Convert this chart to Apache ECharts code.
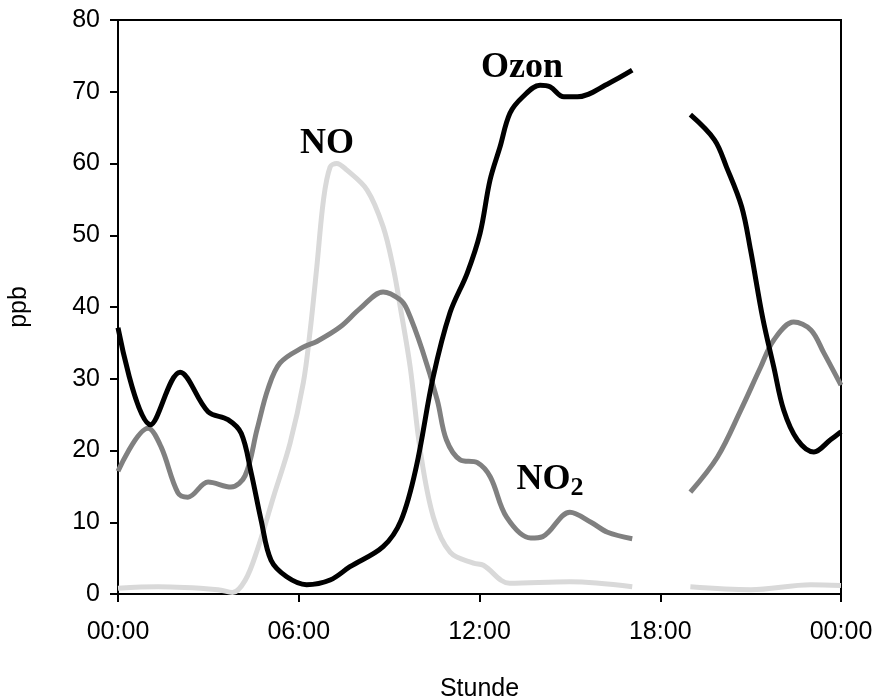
<!DOCTYPE html>
<html><head><meta charset="utf-8">
<script src="https://cdn.jsdelivr.net/npm/echarts@6/dist/echarts.min.js"></script>
<style>html,body{margin:0;padding:0;background:#fff}#c{width:875px;height:697px}</style>
</head><body><div id="c"></div>
<script>
// hours of day (0..24); null = no data
var ozonHours = [0,1.08,2.06,2.99,3.65,4.09,4.42,4.75,5.08,5.6,6.26,7.04,7.7,8.8,9.4,9.9,10.46,11.02,11.59,12.02,12.35,12.68,13.01,13.44,14.01,14.34,14.8,15.25,16.3,17.07,18,19.0,19.8,20.2,20.7,21.0,21.4,21.77,22.1,22.55,23.1,23.65,24];
var ozonValues = [37.1,23.6,30.9,25.4,24.3,22.4,16.9,10.3,4.7,2.4,1.3,1.95,3.8,6.6,10.3,17.7,30.2,39.2,44.7,50.3,57.7,62.3,67.0,69.3,70.9,70.7,69.3,69.3,71.2,73.0,null,66.8,63.3,59.5,54.0,47.9,38.5,31.6,25.6,21.5,19.8,21.5,22.6];

var no2Hours = [0,1.0,1.43,1.99,2.32,2.99,3.75,4.22,4.62,4.98,5.38,6.15,6.6,7.37,8.04,8.8,9.37,9.6,10.1,10.6,10.9,11.36,11.93,12.36,12.9,13.7,14.1,15.0,15.7,16.25,17.07,18,19.0,19.9,20.67,21.33,21.77,22.43,23.0,23.43,24];
var no2Values = [17.1,23.1,20.5,14.1,13.5,15.6,14.9,16.5,23.0,28.6,32.2,34.4,35.2,37.2,39.8,42.1,41.0,39.6,34.0,27.0,21.5,18.7,18.3,16.3,10.7,7.8,8.0,11.4,10.0,8.6,7.7,null,14.2,19.1,25.6,31.6,35.4,37.9,36.8,33.6,29.1];

var noHours = [0,1.33,3.32,3.8,4.22,4.62,5.18,5.71,6.15,6.37,6.6,6.82,7.04,7.26,7.59,8.27,8.8,9.13,9.37,9.7,10.03,10.47,11.03,11.8,12.13,13.0,15.0,17.07,18,19.0,21.0,23.0,24];
var noValues = [0.8,1.0,0.6,0.2,1.9,6.1,13.8,21.0,29.4,36.4,45.6,54.9,59.5,60.0,59.1,56.3,51.2,45.6,40.0,31.6,20.1,10.7,5.8,4.3,4.0,1.5,1.7,1.0,null,1.0,0.6,1.3,1.2];

var xTicks = ['00:00','06:00','12:00','18:00','00:00'];
var labelNames = ['NO','Ozon','NO2'];
var labelHours = [6.94,13.41,14.34];
var labelValues = [62.7,73.35,15.9];

function pairs(h, v){ return h.map(function(x,i){ return [x, v[i]===null ? '-' : v[i]]; }); }

var chart = echarts.init(document.getElementById('c'), null, {renderer:'canvas'});
chart.setOption({
  animation:false,
  grid:{left:118, right:34, top:20, bottom:103, show:true, borderColor:'#000', borderWidth:2, backgroundColor:'transparent',
    containLabel:false, outerBoundsMode:'none'},
  xAxis:{type:'value', min:0, max:24, interval:6,
    name:'Stunde', nameLocation:'middle', nameGap:83,
    nameTextStyle:{fontFamily:'Liberation Sans', fontSize:25, color:'#000'},
    axisLine:{show:true, lineStyle:{color:'#000', width:2}},
    axisTick:{show:true, length:8, lineStyle:{color:'#000', width:2}},
    axisLabel:{fontFamily:'Liberation Sans', fontSize:25, color:'#000', margin:26,
      formatter:function(v){ return xTicks[Math.round(v/6)]; }},
    splitLine:{show:false}},
  yAxis:{type:'value', min:0, max:80, interval:10,
    name:'ppb', nameLocation:'middle', nameGap:86, nameRotate:90,
    nameTextStyle:{fontFamily:'Liberation Sans', fontSize:25, color:'#000'},
    axisLine:{show:true, lineStyle:{color:'#000', width:2}},
    axisTick:{show:true, length:8, lineStyle:{color:'#000', width:2}},
    axisLabel:{fontFamily:'Liberation Sans', fontSize:25, color:'#000', margin:18},
    splitLine:{show:false}},
  series:[
    {type:'line', name:'NO', data:pairs(noHours,noValues), smooth:0.35, showSymbol:false, connectNulls:false,
      lineStyle:{width:5, color:'#d9d9d9'}, z:2},
    {type:'line', name:'NO2', data:pairs(no2Hours,no2Values), smooth:0.35, showSymbol:false, connectNulls:false,
      lineStyle:{width:5, color:'#808080'}, z:3},
    {type:'line', name:'Ozon', data:pairs(ozonHours,ozonValues), smooth:0.35, showSymbol:false, connectNulls:false,
      lineStyle:{width:5, color:'#000'}, z:4},
    {type:'scatter', symbolSize:0, z:5, silent:true, itemStyle:{opacity:1},
      data:labelNames.map(function(n,i){ return {value:[labelHours[i],labelValues[i]], name:n}; }),
      label:{show:true, position:'inside', color:'#000', textBorderWidth:0, opacity:1,
        fontFamily:'Liberation Serif', fontWeight:'bold', fontSize:36,
        formatter:function(p){ return p.name==='NO2' ? 'NO{s|2}' : p.name; },
        rich:{s:{color:'#000', fontFamily:'Liberation Serif', fontWeight:'bold', fontSize:26, verticalAlign:'bottom', padding:[16,0,0,0]}}}}
  ]
});
</script></body></html>
